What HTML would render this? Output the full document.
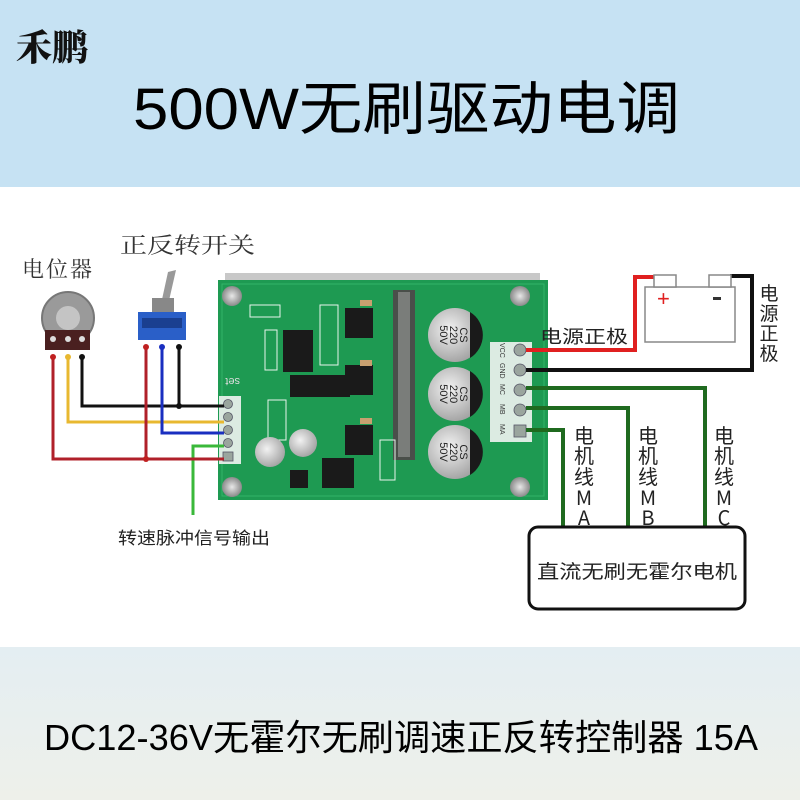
<!DOCTYPE html>
<html><head><meta charset="utf-8"><style>
html,body{margin:0;padding:0;width:800px;height:800px;overflow:hidden;background:#fff}
</style></head><body>
<svg width="800" height="800" viewBox="0 0 800 800" xmlns="http://www.w3.org/2000/svg">
<defs>
<linearGradient id="bot" x1="0" y1="0" x2="0" y2="1"><stop offset="0" stop-color="#e4eef2"/><stop offset="1" stop-color="#eef0ea"/></linearGradient>
<radialGradient id="cap" cx="0.4" cy="0.4" r="0.7"><stop offset="0" stop-color="#f2f2f2"/><stop offset="1" stop-color="#9a9a9a"/></radialGradient>
<radialGradient id="scr" cx="0.5" cy="0.5" r="0.5"><stop offset="0" stop-color="#e8e8e8"/><stop offset="1" stop-color="#8a8a8a"/></radialGradient>
</defs>
<rect x="0" y="0" width="800" height="187" fill="#c6e2f3"/>
<rect x="0" y="647" width="800" height="153" fill="url(#bot)"/>
<text x="16" y="60" font-family="'Noto Serif CJK SC',serif" font-weight="900" font-size="36" fill="#111">禾鹏</text>
<text x="133" y="129" font-family="'Liberation Sans','Noto Sans CJK SC',sans-serif" font-size="58" fill="#000" textLength="547" lengthAdjust="spacingAndGlyphs">500W无刷驱动电调</text>
<text x="44" y="750" font-family="'Liberation Sans','Noto Sans CJK SC',sans-serif" font-size="36" fill="#000" textLength="714" lengthAdjust="spacingAndGlyphs">DC12-36V无霍尔无刷调速正反转控制器 15A</text>

<text x="22" y="277" font-family="'Noto Serif CJK SC',serif" font-size="22" fill="#333" letter-spacing="2">电位器</text>
<text x="120" y="253" font-family="'Noto Serif CJK SC',serif" font-size="22" fill="#333" textLength="135" lengthAdjust="spacingAndGlyphs">正反转开关</text>
<text x="118" y="544" font-family="'Noto Sans CJK SC',sans-serif" font-size="17" fill="#222" textLength="152" lengthAdjust="spacingAndGlyphs">转速脉冲信号输出</text>

<rect x="225" y="273" width="315" height="12" fill="#c8c8c8"/>
<rect x="218" y="280" width="330" height="220" fill="#1e9a52"/>
<rect x="222" y="284" width="322" height="212" fill="none" stroke="#33b468" stroke-width="1"/>
<rect x="393" y="290" width="22" height="170" fill="#4a4f4a"/>
<rect x="398" y="292" width="12" height="165" fill="#7a7d7a"/>
<rect x="283" y="330" width="30" height="42" fill="#1a1a1a"/>
<rect x="290" y="375" width="60" height="22" fill="#1a1a1a"/>
<rect x="345" y="308" width="28" height="30" fill="#1a1a1a"/>
<rect x="345" y="365" width="28" height="30" fill="#1a1a1a"/>
<rect x="345" y="425" width="28" height="30" fill="#1a1a1a"/>
<rect x="322" y="458" width="32" height="30" fill="#1a1a1a"/>
<rect x="290" y="470" width="18" height="18" fill="#1a1a1a"/>
<g fill="#c8a070"><rect x="360" y="300" width="12" height="6"/><rect x="360" y="360" width="12" height="6"/><rect x="360" y="418" width="12" height="6"/></g>
<g stroke="#e8f4ec" stroke-width="1" fill="none"><rect x="250" y="305" width="30" height="12"/><rect x="265" y="330" width="12" height="40"/><rect x="320" y="305" width="18" height="60"/><rect x="268" y="400" width="18" height="40"/><rect x="380" y="440" width="15" height="40"/></g>
<g>
<circle cx="455" cy="335" r="27" fill="url(#cap)"/><path d="M470 312 A27 27 0 0 1 470 358 Z" fill="#1a1a1a"/>
<circle cx="455" cy="394" r="27" fill="url(#cap)"/><path d="M470 371 A27 27 0 0 1 470 417 Z" fill="#1a1a1a"/>
<circle cx="455" cy="452" r="27" fill="url(#cap)"/><path d="M470 429 A27 27 0 0 1 470 475 Z" fill="#1a1a1a"/>
<circle cx="270" cy="452" r="15" fill="url(#cap)"/><circle cx="303" cy="443" r="14" fill="url(#cap)"/>
</g>
<g font-family="'Liberation Sans',sans-serif" font-size="11" fill="#222" text-anchor="middle">
<text transform="translate(460 335) rotate(90)">CS</text><text transform="translate(450 335) rotate(90)">220</text><text transform="translate(440 335) rotate(90)">50V</text>
<text transform="translate(460 394) rotate(90)">CS</text><text transform="translate(450 394) rotate(90)">220</text><text transform="translate(440 394) rotate(90)">50V</text>
<text transform="translate(460 452) rotate(90)">CS</text><text transform="translate(450 452) rotate(90)">220</text><text transform="translate(440 452) rotate(90)">50V</text>
</g>
<g fill="url(#scr)"><circle cx="232" cy="296" r="10"/><circle cx="520" cy="296" r="10"/><circle cx="232" cy="487" r="10"/><circle cx="520" cy="487" r="10"/></g>
<text transform="translate(240 378) rotate(180)" font-family="'Liberation Sans',sans-serif" font-size="11" fill="#ddd">set</text>
<rect x="219" y="396" width="22" height="68" fill="#dcebe2"/>
<g fill="#9aa59e" stroke="#556" stroke-width="0.8"><circle cx="228" cy="404" r="4.5"/><circle cx="228" cy="417" r="4.5"/><circle cx="228" cy="430" r="4.5"/><circle cx="228" cy="443" r="4.5"/><rect x="223" y="452" width="10" height="9"/></g>
<rect x="490" y="342" width="42" height="100" fill="#dcebe2"/>
<g fill="#9aa59e" stroke="#556" stroke-width="0.8"><circle cx="520" cy="350" r="6"/><circle cx="520" cy="370" r="6"/><circle cx="520" cy="390" r="6"/><circle cx="520" cy="410" r="6"/><rect x="514" y="425" width="12" height="12"/></g>
<g font-family="'Liberation Sans',sans-serif" font-size="7" fill="#333">
<text transform="translate(500 343) rotate(90)">VCC</text><text transform="translate(500 363) rotate(90)">GND</text><text transform="translate(500 384) rotate(90)">MC</text><text transform="translate(500 404) rotate(90)">MB</text><text transform="translate(500 424) rotate(90)">MA</text>
</g>

<g fill="none" stroke-width="3">
<polyline points="82,357 82,406 224,406" stroke="#111"/>
<polyline points="179,347 179,406" stroke="#111"/>
<polyline points="68,357 68,422 224,422" stroke="#e8b830"/>
<polyline points="162,347 162,433 224,433" stroke="#1a2fc0"/>
<polyline points="193,515 193,446 224,446" stroke="#3ab83a"/>
<polyline points="53,357 53,459 224,459" stroke="#b0202a"/>
<polyline points="146,347 146,459" stroke="#b0202a"/>
</g>
<g><circle cx="179" cy="406" r="3" fill="#111"/><circle cx="146" cy="459" r="3" fill="#c02020"/><circle cx="53" cy="357" r="3" fill="#c02020"/><circle cx="68" cy="357" r="3" fill="#e8b830"/><circle cx="82" cy="357" r="3" fill="#111"/><circle cx="146" cy="347" r="3" fill="#c02020"/><circle cx="162" cy="347" r="3" fill="#1a2fc0"/><circle cx="179" cy="347" r="3" fill="#111"/></g>
<circle cx="68" cy="318" r="26" fill="#9a9a9a" stroke="#777" stroke-width="2"/>
<circle cx="68" cy="318" r="12" fill="#c4c4c4"/>
<rect x="45" y="330" width="45" height="20" fill="#4a2020"/>
<g fill="#ddd"><circle cx="53" cy="339" r="3"/><circle cx="68" cy="339" r="3"/><circle cx="82" cy="339" r="3"/></g>
<path d="M168 272 L176 270 L168 305 L161 304 Z" fill="#999"/>
<rect x="152" y="298" width="22" height="15" fill="#888"/>
<rect x="138" y="312" width="48" height="28" fill="#2a5fc8"/>
<rect x="142" y="318" width="40" height="10" fill="#1a3f90"/>

<g fill="none" stroke-width="4">
<polyline points="526,350 635,350 635,277 655,277" stroke="#e02020"/>
<polyline points="526,370 752,370 752,276 730,276" stroke="#111"/>
<polyline points="526,388 705,388 705,526" stroke="#1f6a1f"/>
<polyline points="526,408 628,408 628,526" stroke="#1f6a1f"/>
<polyline points="526,430 563,430 563,526" stroke="#1f6a1f"/>
</g>
<rect x="645" y="287" width="90" height="55" fill="#fff" stroke="#888" stroke-width="1.5"/>
<rect x="654" y="275" width="22" height="12" fill="#fff" stroke="#888" stroke-width="1.5"/>
<rect x="709" y="275" width="22" height="12" fill="#fff" stroke="#888" stroke-width="1.5"/>
<text x="657" y="306" font-family="'Liberation Sans',sans-serif" font-size="22" fill="#e02020">+</text>
<rect x="713" y="297" width="8" height="3" fill="#333"/>
<text x="540" y="343" font-family="'Noto Sans CJK SC',sans-serif" font-size="18" fill="#222" textLength="88" lengthAdjust="spacingAndGlyphs">电源正极</text>
<g font-family="'Noto Sans CJK SC',sans-serif" font-size="19" fill="#222" text-anchor="middle">
<text x="769" y="300">电</text><text x="769" y="320">源</text><text x="769" y="340">正</text><text x="769" y="360">极</text>
</g>
<g font-family="'Noto Sans CJK SC','Liberation Sans',sans-serif" font-size="20" fill="#222" text-anchor="middle">
<text x="584" y="443">电</text><text x="584" y="463">机</text><text x="584" y="484">线</text><text x="584" y="505">M</text><text x="584" y="525">A</text>
<text x="648" y="443">电</text><text x="648" y="463">机</text><text x="648" y="484">线</text><text x="648" y="505">M</text><text x="648" y="525">B</text>
<text x="724" y="443">电</text><text x="724" y="463">机</text><text x="724" y="484">线</text><text x="724" y="505">M</text><text x="724" y="525">C</text>
</g>
<rect x="529" y="527" width="216" height="82" rx="9" fill="#fff" stroke="#111" stroke-width="3"/>
<text x="637" y="578" font-family="'Noto Sans CJK SC',sans-serif" font-size="19" fill="#222" text-anchor="middle" textLength="200" lengthAdjust="spacingAndGlyphs">直流无刷无霍尔电机</text>
</svg>
</body></html>
